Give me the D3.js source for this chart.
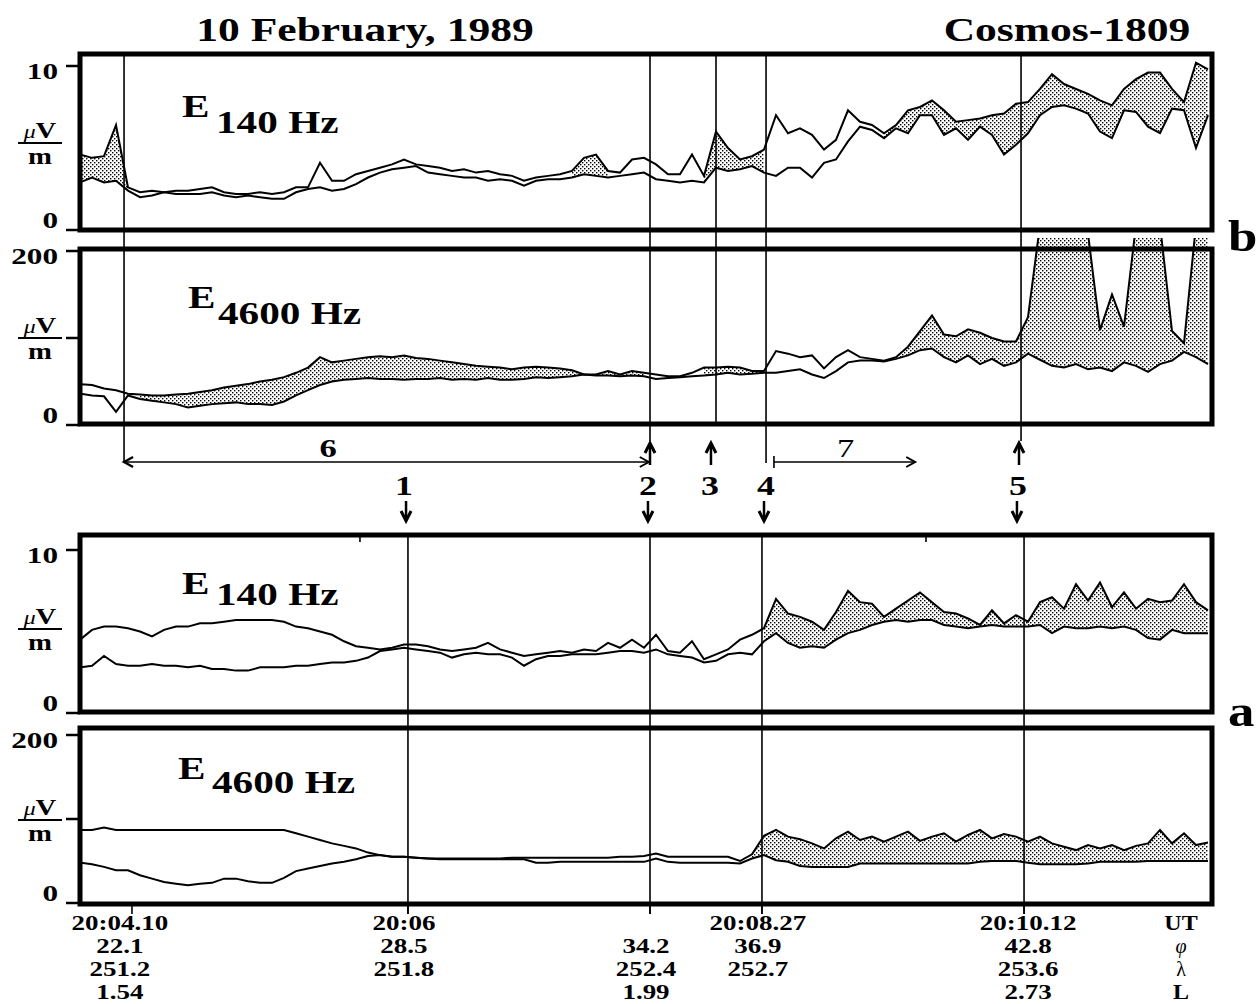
<!DOCTYPE html>
<html><head><meta charset="utf-8">
<script src="https://cdn.jsdelivr.net/npm/d3@7/dist/d3.min.js"></script>
<style>
html,body{margin:0;padding:0;background:#fff;}
svg{display:block;}
text{font-family:"Liberation Serif","Times New Roman",serif;font-weight:bold;fill:#000;}
</style></head><body>
<svg id="c" width="1256" height="1004"></svg>
<script>
// ---------------- DATA (sample index 0..94 along the orbit) ----------------
const b140A = [4.6,4.4,4.5,6.4,2.6,2.3,2.4,2.3,2.4,2.4, 2.5,2.6,2.3,2.2,2.2,2.3,2.2,2.3,2.6,2.6,
  4.1,3.0,3.0,3.4,3.6,3.8,4.0,4.3,4.0,3.9, 3.8,3.6,3.7,3.5,3.6,3.4,3.3,3.0,3.2,3.3,
  3.4,3.6,4.4,4.6,3.6,3.5,4.3,4.4,4.0,3.4, 3.4,4.6,3.3,6.0,5.0,4.3,4.5,4.9,7.0,5.9,
  6.2,5.8,4.9,5.5,7.3,6.6,6.4,5.9,6.4,7.3, 7.5,7.9,7.3,6.6,6.7,6.8,7.0,7.1,7.7,7.8,
  8.6,9.5,8.9,8.6,8.3,7.9,7.6,8.6,9.2,9.6, 9.6,8.6,7.8,10.2,9.8];
const b140B = [2.9,3.2,2.9,3.0,2.4,2.0,2.1,2.3,2.2,2.2, 2.2,2.3,2.1,2.0,2.1,2.0,1.9,1.9,2.3,2.5,
  2.6,2.4,2.5,2.8,3.2,3.5,3.7,3.8,3.9,3.5, 3.4,3.3,3.2,3.2,3.0,3.1,3.0,2.7,3.0,3.1,
  3.1,3.2,3.4,3.3,3.2,3.3,3.4,3.5,3.1,3.0, 2.9,3.0,2.9,3.8,3.6,3.7,3.9,3.5,3.3,3.8,
  3.8,3.2,4.1,4.3,5.4,6.3,6.1,5.6,6.2,5.9, 7.0,7.0,5.8,6.2,5.5,6.3,5.8,4.6,5.2,5.9,
  7.0,7.5,7.6,7.4,7.1,6.0,5.6,7.3,7.2,6.3, 5.9,7.4,7.3,5.0,7.0];
const b4600A = [47,46,42,40,36,35,34,34,35,36, 38,40,43,45,47,50,52,55,60,66,
  78,72,74,76,78,79,78,80,77,76, 74,72,70,68,67,66,64,66,67,66,
  65,63,58,58,62,58,62,60,58,56, 56,60,66,66,67,66,62,62,85,82,
  78,80,65,78,86,78,76,74,78,90, 108,126,104,102,110,106,100,96,96,124,
  230,230,230,230,220,109,150,113,230,230, 230,108,94,230,230];
const b4600B = [36,34,33,15,34,30,28,26,24,20, 22,24,25,26,24,24,23,27,34,40,
  46,50,52,53,54,53,53,52,53,53, 54,52,53,52,54,52,52,53,55,54,
  55,56,58,57,57,56,57,56,53,54, 55,56,57,58,60,58,59,60,60,62,
  64,58,54,62,72,74,74,73,76,80, 86,88,78,72,80,70,76,68,72,82,
  75,68,66,70,64,66,62,72,68,61, 70,74,84,78,70];
const a140A = [4.5,5.1,5.3,5.3,5.2,5.0,4.7,5.1,5.3,5.3, 5.5,5.5,5.6,5.7,5.7,5.7,5.7,5.6,5.3,5.2,
  5.0,4.8,4.4,4.1,4.0,3.9,4.0,4.2,4.2,4.1, 3.9,3.8,3.9,4.0,4.3,3.9,3.7,3.5,3.6,3.7,
  3.8,3.7,3.9,3.8,4.3,4.0,4.5,4.0,4.8,3.8, 3.7,4.4,3.3,3.6,3.9,4.5,4.8,5.2,7.0,6.1,
  5.9,5.6,5.1,6.2,7.5,6.8,6.7,5.9,6.4,6.9, 7.4,6.8,6.2,6.1,5.8,5.4,6.3,5.5,6.0,5.6,
  6.8,7.1,6.4,7.9,6.9,8.0,6.5,7.4,6.4,7.0, 6.8,6.9,7.9,6.8,6.3];
const a140B = [2.8,2.9,3.5,3.0,2.9,2.9,3.0,2.9,2.9,2.8, 2.9,2.7,2.7,2.6,2.6,2.8,2.8,2.8,2.9,2.9,
  3.0,3.1,3.1,3.2,3.4,3.8,3.9,4.0,3.9,3.8, 3.7,3.4,3.6,3.7,3.6,3.6,3.4,2.9,3.3,3.5,
  3.5,3.6,3.6,3.6,3.7,3.8,3.8,3.7,3.9,3.6, 3.5,3.4,3.1,3.2,3.6,3.7,3.6,4.4,4.9,4.3,
  4.0,4.1,4.0,4.5,4.9,5.1,5.4,5.6,5.7,5.6, 5.7,5.7,5.4,5.3,5.2,5.3,5.4,5.3,5.3,5.3,
  5.4,4.9,5.3,5.2,5.2,5.3,5.2,5.3,5.1,4.6, 4.5,5.1,4.9,4.9,4.9];
const a4600A = [87,87,90,87,87,87,87,87,87,87, 87,87,87,87,87,87,87,87,83,79,
  75,71,68,65,60,57,55,55,54,53, 53,53,53,53,53,53,54,54,54,54,
  54,54,54,54,54,55,55,56,59,55, 55,55,55,55,55,50,58,80,87,79,
  76,71,65,77,85,75,79,73,79,85, 74,79,83,73,81,87,77,82,79,73,
  79,71,67,63,69,65,69,63,68,71, 87,71,83,69,72];
const a4600B = [48,46,43,39,39,33,29,25,23,21, 23,24,29,29,26,24,24,30,38,41,
  44,47,49,52,56,57,55,55,54,53, 52,52,52,52,52,52,52,52,48,48,
  49,49,49,49,49,49,49,49,53,49, 48,48,48,48,48,47,53,57,51,49,
  44,43,43,43,43,47,47,47,47,47, 47,47,47,47,47,49,50,50,50,48,
  46,46,46,46,47,49,49,49,49,50, 50,50,50,50,50];

// stippled (shaded) stretches between the two traces, as sample-index ranges
const b140Stipple  = [[0,4],[41,44],[52,57],[67,94]];
const b4600Stipple = [[5,47],[52,57],[68,94]];
const a140Stipple  = [[57,94]];
const a4600Stipple = [[56,94]];

// event markers (sample index)
const bEventPos   = [3.67, 47.5, 53, 57.17, 78.42];
const bEventLink  = ["span","arrow","none","span","arrow"];
const aEventPos   = [27.33, 47.5, 56.83, 78.67];
const aMinorTicks = [23.33, 70.5];
const eventNumbers = ["1","2","3","4","5"];
const eventNumberPos = [27.0, 47.33, 52.5, 57.17, 78.17];
const upArrowPos   = [47.5, 52.58, 78.25];
const downArrowPos = [27.17, 47.33, 57.0, 78.08];
const spanLabels = ["6","7"];
const spanFrom   = [3.67, 57.83];
const spanTo     = [47.4, 69.6];
const spanLabelPos = [20.67, 63.8];
const spanBoth   = [true, false];

// bottom axis
const tickPos   = [4.33, 27.33, 47.5, 56.83, 78.67];
const utLabels  = ["20:04.10","20:06","","20:08.27","20:10.12"];
const phiLabels = ["22.1","28.5","34.2","36.9","42.8"];
const lamLabels = ["251.2","251.8","252.4","252.7","253.6"];
const lLabels   = ["1.54","","1.99","","2.73"];
const rowNames  = ["UT","\u03C6","\u03BB","L"];

// ---------------- DRAWING ----------------
const svg = d3.select("#c");
const SX = 1.33;
const defs = svg.append("defs");
const pat = defs.append("pattern").attr("id","stip").attr("patternUnits","userSpaceOnUse")
  .attr("width",4).attr("height",4);
pat.append("rect").attr("x",0).attr("y",0).attr("width",1.4).attr("height",1.4).attr("fill","#000");
pat.append("rect").attr("x",2).attr("y",2).attr("width",1.4).attr("height",1.4).attr("fill","#000");

const x = d3.scaleLinear().domain([0,94]).range([80,1208]);
const frameL = 80, frameR = 1212;

function txt(s, px, py, size, o={}) {
  const t = svg.append("text")
    .attr("transform", `translate(${px},${py}) scale(${o.sx||SX},1)`)
    .attr("font-size", size)
    .attr("text-anchor", o.anchor||"middle")
    .text(s);
  if (o.weight) t.style("font-weight", o.weight);
  if (o.style) t.style("font-style", o.style);
  return t;
}

const panels = [
  {id:"b140", A:b140A, B:b140B, stip:b140Stipple, top:54, bot:230, dom:[0,10], rng:[230,66],
   ticks:[0,10], tlab:[0,10], sub:"140 Hz", eX:182, eY:117, sX:216, sY:133, fracY:143, clipTop:54},
  {id:"b4600", A:b4600A, B:b4600B, stip:b4600Stipple, top:249, bot:424, dom:[0,200], rng:[425,251],
   ticks:[0,100,200], tlab:[0,200], sub:"4600 Hz", eX:188, eY:308, sX:218, sY:324, fracY:338, clipTop:238},
  {id:"a140", A:a140A, B:a140B, stip:a140Stipple, top:535, bot:712, dom:[0,10], rng:[713,550],
   ticks:[0,10], tlab:[0,10], sub:"140 Hz", eX:182, eY:594, sX:216, sY:605, fracY:629, clipTop:535},
  {id:"a4600", A:a4600A, B:a4600B, stip:a4600Stipple, top:728, bot:904, dom:[0,200], rng:[903,735],
   ticks:[0,100,200], tlab:[0,200], sub:"4600 Hz", eX:178, eY:779, sX:212, sY:793, fracY:820, clipTop:728}
];

// event lines (under everything)
const evG = svg.append("g").attr("stroke","#000").attr("stroke-width",1.6);
bEventPos.forEach((p,i) => {
  const end = bEventLink[i]==="span" ? 463 : bEventLink[i]==="arrow" ? 441 : 425;
  evG.append("line").attr("x1",x(p)).attr("x2",x(p)).attr("y1",54).attr("y2",end);
});
aEventPos.forEach(p => {
  evG.append("line").attr("x1",x(p)).attr("x2",x(p)).attr("y1",535).attr("y2",914);
});
tickPos.forEach(p => {
  evG.append("line").attr("x1",x(p)).attr("x2",x(p)).attr("y1",904).attr("y2",914);
});
aMinorTicks.forEach(p => {
  evG.append("line").attr("x1",x(p)).attr("x2",x(p)).attr("y1",535).attr("y2",542);
});

panels.forEach(P => {
  const y = d3.scaleLinear().domain(P.dom).range(P.rng);
  const cid = "clip-"+P.id;
  defs.append("clipPath").attr("id",cid).append("rect")
    .attr("x",frameL+1).attr("y",P.clipTop).attr("width",frameR-frameL-2).attr("height",P.bot-P.clipTop);
  const g = svg.append("g").attr("clip-path",`url(#${cid})`);
  const pts = P.A.map((a,i) => ({i, a, b:P.B[i]}));
  const area = d3.area().x(d=>x(d.i)).y0(d=>y(d.a)).y1(d=>y(d.b));
  P.stip.forEach(r => {
    g.append("path").attr("d", area(pts.slice(r[0], r[1]+1))).attr("fill","url(#stip)");
  });
  const line = d3.line().x(d=>x(d.i)).y(d=>d.v);
  [P.A, P.B].forEach(ser => {
    g.append("path").attr("d", line(ser.map((v,i)=>({i, v:y(v)}))))
      .attr("fill","none").attr("stroke","#000").attr("stroke-width",2).attr("stroke-linejoin","miter");
  });
  // frame
  svg.append("rect").attr("x",frameL).attr("y",P.top).attr("width",frameR-frameL).attr("height",P.bot-P.top)
    .attr("fill","none").attr("stroke","#000").attr("stroke-width",5);
  // y ticks
  P.ticks.forEach(t => {
    svg.append("line").attr("x1",66).attr("x2",frameL).attr("y1",y(t)).attr("y2",y(t))
      .attr("stroke","#000").attr("stroke-width",2.5);
  });
  P.tlab.forEach(t => {
    const dy = t===P.dom[1] ? 13 : -2;
    txt(String(t), 58, y(t)+dy, 24, {anchor:"end", sx:1.3});
  });
  // unit label
  const u = svg.append("text").attr("transform",`translate(40,${P.fracY-5}) scale(1.25,1)`)
    .attr("text-anchor","middle").attr("font-size",23);
  u.append("tspan").text("\u03BC").style("font-style","italic").style("font-weight","normal").attr("font-size",19);
  u.append("tspan").text("V");
  svg.append("line").attr("x1",18).attr("x2",62).attr("y1",P.fracY).attr("y2",P.fracY)
    .attr("stroke","#000").attr("stroke-width",2);
  txt("m", 40, P.fracY+21, 23, {sx:1.25});
  // panel title
  txt("E", P.eX, P.eY, 31, {anchor:"start"});
  txt(P.sub, P.sX, P.sY, 31, {anchor:"start"});
});

// titles
txt("10 February, 1989", 365, 41, 33, {sx:1.32});
txt("Cosmos-1809", 1067, 41, 33, {sx:1.32});
txt("b", 1228, 251, 44, {anchor:"start", sx:1.2});
txt("a", 1228, 726, 44, {anchor:"start", sx:1.2});

// arrows
const ar = svg.append("g").attr("stroke","#000").attr("fill","none");
upArrowPos.forEach(p => {
  const X = x(p);
  ar.append("line").attr("x1",X).attr("x2",X).attr("y1",446).attr("y2",465).attr("stroke-width",2.5);
  ar.append("path").attr("d",`M${X-5},${453}L${X},${443}L${X+5},${453}`).attr("stroke-width",3);
});
downArrowPos.forEach(p => {
  const X = x(p);
  ar.append("line").attr("x1",X).attr("x2",X).attr("y1",501).attr("y2",518).attr("stroke-width",2.5);
  ar.append("path").attr("d",`M${X-5},${511}L${X},${521}L${X+5},${511}`).attr("stroke-width",3);
});
spanLabels.forEach((lab,i) => {
  const x0 = x(spanFrom[i]), x1 = x(spanTo[i]), Y = 462;
  ar.append("line").attr("x1",x0).attr("x2",x1).attr("y1",Y).attr("y2",Y).attr("stroke-width",1.6);
  ar.append("path").attr("d",`M${x1-9},${Y-5}L${x1},${Y}L${x1-9},${Y+5}`).attr("stroke-width",2);
  if (spanBoth[i]) {
    ar.append("path").attr("d",`M${x0+9},${Y-5}L${x0},${Y}L${x0+9},${Y+5}`).attr("stroke-width",2.4);
  } else {
    ar.append("line").attr("x1",x0).attr("x2",x0).attr("y1",Y-6).attr("y2",Y+6).attr("stroke-width",1.6);
  }
  txt(lab, x(spanLabelPos[i]), 457, 26, {weight: i===0 ? "bold" : "normal"});
});
eventNumbers.forEach((n,i) => txt(n, x(eventNumberPos[i]), 495, 27));

// bottom labels
const dxCol = [-12, -4, -4, -4, 4];
[utLabels, phiLabels, lamLabels, lLabels].forEach((row, r) => {
  const by = 930 + r*23;
  row.forEach((s,i) => { if (s) txt(s, x(tickPos[i]) + dxCol[i], by, 20, {sx:1.35}); });
  const nm = rowNames[r];
  txt(nm, 1181, by, 20, {sx: (r===1||r===2) ? 1.0 : 1.2, weight: (r===1||r===2) ? "normal" : "bold", style: r===1 ? "italic" : null});
});
</script>
</body></html>
